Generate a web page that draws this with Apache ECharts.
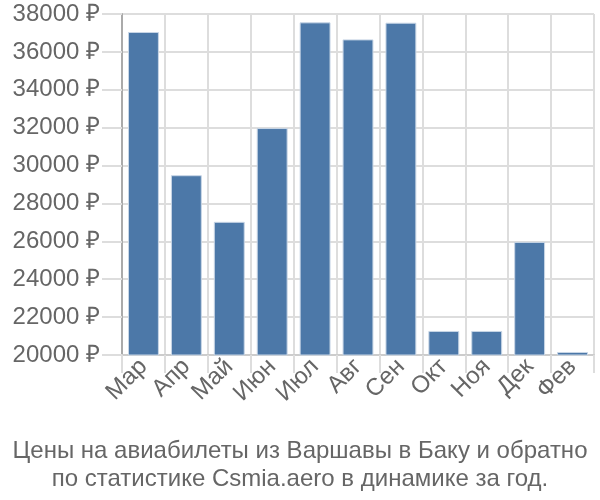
<!DOCTYPE html>
<html><head><meta charset="utf-8">
<script src="https://cdn.jsdelivr.net/npm/echarts@6/dist/echarts.min.js"></script>
<style>html,body{margin:0;padding:0;background:#fff}#c{width:600px;height:500px}</style>
</head><body><div id="c"></div>
<script>
var categories = ['Мар','Апр','Май','Июн','Июл','Авг','Сен','Окт','Ноя','Дек','Фев'];
var prices = [37050, 29490, 27030, 31980, 37560, 36660, 37540, 21270, 21270, 25970, 20160];
var yMin = 20000, yMax = 38000, yStep = 2000;
var titleLines = ['Цены на авиабилеты из Варшавы в Баку и обратно', 'по статистике Csmia.aero в динамике за год.'];

var chart = echarts.init(document.getElementById('c'), null, {renderer:'canvas'});
chart.setOption({
  animation: false,
  backgroundColor: '#fff',
  title: {
    text: titleLines.join('\n'),
    left: 'center', top: 432,
    textStyle: {fontFamily: 'Liberation Sans, Arial, sans-serif', fontSize: 24, fontWeight: 'normal', color: '#666', lineHeight: 28}
  },
  grid: {left: 122, right: 6, top: 14, bottom: 145, containLabel: false},
  xAxis: {
    type: 'category', data: categories,
    axisLine: {show: true, lineStyle: {color: '#ccc', width: 2}},
    axisTick: {show: true, length: 18, lineStyle: {color: '#ddd', width: 2}},
    splitLine: {show: true, lineStyle: {color: '#ddd', width: 2}},
    axisLabel: {rotate: 45, margin: 8, fontFamily: 'Liberation Sans, Arial, sans-serif', fontSize: 24, color: '#666', interval: 0}
  },
  yAxis: {
    type: 'value', min: yMin, max: yMax, interval: yStep,
    axisLine: {show: true, lineStyle: {color: '#aaa', width: 2}},
    axisTick: {show: true, length: 20, lineStyle: {color: '#ddd', width: 2}},
    splitLine: {show: true, lineStyle: {color: '#ddd', width: 2}},
    axisLabel: {formatter: function(v){ return v + ' ₽'; }, margin: 22, fontFamily: 'Liberation Sans, Arial, sans-serif', fontSize: 24, color: '#666'}
  },
  series: [{
    type: 'bar', data: prices, barCategoryGap: '28%',
    itemStyle: {color: '#4c78a8', borderColor: '#c8d6e6', borderWidth: 1}
  }]
});
</script></body></html>
